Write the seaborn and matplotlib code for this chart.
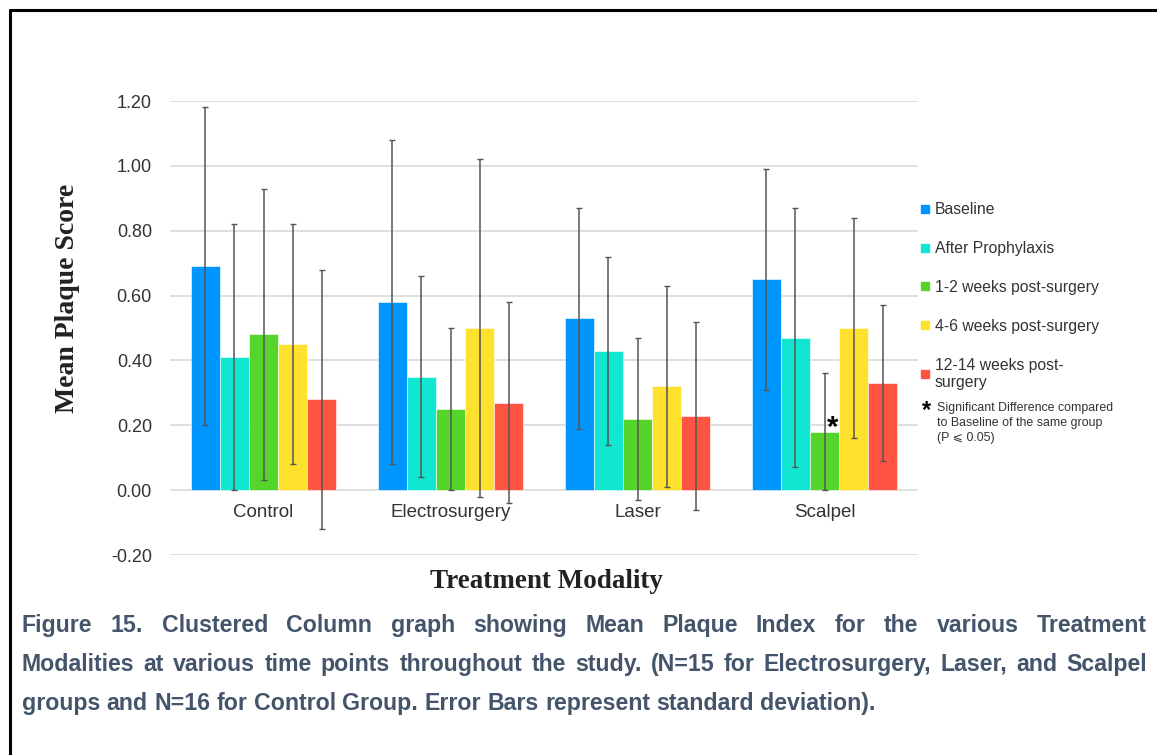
import numpy as np
import pandas as pd
import matplotlib
matplotlib.use("Agg")
import matplotlib.pyplot as plt
import seaborn as sns
from matplotlib.lines import Line2D

# ---------------- data ----------------
modalities = ["Control", "Electrosurgery", "Laser", "Scalpel"]
timepoints = ["Baseline", "After Prophylaxis", "1-2 weeks post-surgery",
              "4-6 weeks post-surgery", "12-14 weeks post-\nsurgery"]
baseline_mean = [0.69, 0.58, 0.53, 0.65]
prophylaxis_mean = [0.41, 0.35, 0.43, 0.47]
wk1_2_mean = [0.48, 0.25, 0.22, 0.18]
wk4_6_mean = [0.45, 0.50, 0.32, 0.50]
wk12_14_mean = [0.28, 0.27, 0.23, 0.33]
baseline_sd = [0.49, 0.50, 0.34, 0.34]
prophylaxis_sd = [0.41, 0.31, 0.29, 0.40]
wk1_2_sd = [0.45, 0.25, 0.25, 0.18]
wk4_6_sd = [0.37, 0.52, 0.31, 0.34]
wk12_14_sd = [0.40, 0.31, 0.29, 0.24]
y_ticks = [-0.2, 0.0, 0.2, 0.4, 0.6, 0.8, 1.0, 1.2]
colors = ["#0096FF", "#10E6D2", "#55D42B", "#FDE12C", "#FF5442"]

means = [baseline_mean, prophylaxis_mean, wk1_2_mean, wk4_6_mean, wk12_14_mean]
sds = [baseline_sd, prophylaxis_sd, wk1_2_sd, wk4_6_sd, wk12_14_sd]

rows = []
for t, m in zip(timepoints, means):
    for g, v in zip(modalities, m):
        rows.append({"Modality": g, "Time": t, "Mean": v})
df = pd.DataFrame(rows)

# ---------------- figure ----------------
sns.set_theme(style="white")
plt.rcParams["font.family"] = ["Liberation Sans", "DejaVu Sans"]
W, H = 1157, 755
fig = plt.figure(figsize=(W / 100, H / 100), dpi=100)
ax = fig.add_axes([170 / W, 1 - 555 / H, (918 - 170) / W, (555 - 101) / H])

sns.barplot(data=df, x="Modality", y="Mean", hue="Time", order=modalities,
            hue_order=timepoints, palette=colors, errorbar=None, width=0.78,
            gap=0, saturation=1, legend=False, ax=ax,
            edgecolor="white", linewidth=0.4, zorder=2)

for cont, sd in zip(ax.containers, sds):
    xs = [b.get_x() + b.get_width() / 2 for b in cont]
    ys = [b.get_height() for b in cont]
    ax.errorbar(xs, ys, yerr=sd, fmt="none", ecolor="#555555",
                elinewidth=1.1, capsize=2, capthick=1, zorder=3)

# significance asterisk on Scalpel 1-2 weeks
sb = ax.containers[2][3]
ax.annotate("*", (sb.get_x() + sb.get_width() / 2, sb.get_height()),
            xytext=(5.5, -7), textcoords="offset points", ha="center",
            va="bottom", fontsize=21, fontweight="bold", color="black",
            zorder=4)

ax.set_ylim(-0.2, 1.2)
ax.set_xlim(-0.5, 3.5)
ax.set_yticks(y_ticks)
ax.set_yticklabels([f"{v:.2f}" for v in y_ticks])
ax.yaxis.grid(True, color="#DCDCDC", linewidth=1.3, zorder=0)
ax.set_axisbelow(True)
for s in ["top", "right", "left"]:
    ax.spines[s].set_visible(False)
ax.spines["bottom"].set_position(("data", 0))
ax.spines["bottom"].set_visible(False)
ax.tick_params(axis="y", length=0, pad=13, labelsize=13, labelcolor="#333333")
ax.tick_params(axis="x", length=0, pad=10, labelsize=13.5, labelcolor="#333333")
ax.set_xlabel("")
ax.set_ylabel("")

# axis titles
fig.text(68 / W, 1 - 298 / H, "Mean Plaque Score", rotation=90, ha="center",
         va="center", fontsize=20, fontweight="bold",
         family=["Liberation Serif", "DejaVu Serif"], color="#222222")
fig.text(546 / W, 1 - 582 / H, "Treatment Modality", ha="center", va="center",
         fontsize=19.5, fontweight="bold",
         family=["Liberation Serif", "DejaVu Serif"], color="#222222")

# legend
handles = [Line2D([], [], marker="s", linestyle="none", markersize=5.5,
                  markerfacecolor=c, markeredgecolor=c) for c in colors]
fig.legend(handles, timepoints, loc="upper left",
           bbox_to_anchor=(915 / W, 1 - 196 / H), frameon=False,
           fontsize=11.3, handlelength=0.5, handletextpad=0.35,
           labelspacing=1.52, borderaxespad=0, labelcolor="#333333")

fig.text(927 / W, 1 - 411 / H, "*", ha="center", va="center", fontsize=17,
         fontweight="bold", color="black")
fig.text(937 / W, 1 - 402 / H,
         "Significant Difference compared\nto Baseline of the same group\n(P \u2a7d 0.05)",
         ha="left", va="top", fontsize=8.9, color="#333333", linespacing=1.32,
         family=["Liberation Sans", "DejaVu Sans"])

# caption (justified)
cap_color = "#44546A"
cap_lines = [
    "Figure 15. Clustered Column graph showing Mean Plaque Index for the various Treatment",
    "Modalities at various time points throughout the study. (N=15 for Electrosurgery, Laser, and Scalpel",
    "groups and N=16 for Control Group. Error Bars represent standard deviation).",
]
cap_y = [632, 671, 710]
cap_fs = 16.7
x0, x1 = 22, 1147
renderer = fig.canvas.get_renderer()
sp = fig.text(0, 0, "a a", fontsize=cap_fs, fontweight="bold")
sp2 = fig.text(0, 0, "aa", fontsize=cap_fs, fontweight="bold")
space_w = sp.get_window_extent(renderer).width - sp2.get_window_extent(renderer).width
sp.remove(); sp2.remove()
for i, (line, yy) in enumerate(zip(cap_lines, cap_y)):
    words = line.split(" ")
    texts = [fig.text(0, 1 - yy / H, w, ha="left", va="baseline", fontsize=cap_fs,
                      fontweight="bold", color=cap_color) for w in words]
    widths = [t.get_window_extent(renderer).width for t in texts]
    if i < len(cap_lines) - 1:
        gap = max(space_w, (x1 - x0 - sum(widths)) / (len(words) - 1))
    else:
        gap = space_w
    x = x0
    for t, w in zip(texts, widths):
        t.set_x(x / W)
        x += w + gap

# frame (top and left border)
fig.add_artist(Line2D([10 / W, 10 / W], [0, 1 - 10 / H], transform=fig.transFigure,
                      color="black", linewidth=2.2))
fig.add_artist(Line2D([10 / W, 1], [1 - 10 / H, 1 - 10 / H], transform=fig.transFigure,
                      color="black", linewidth=2.2))

fig.savefig("out.png", dpi=100)
